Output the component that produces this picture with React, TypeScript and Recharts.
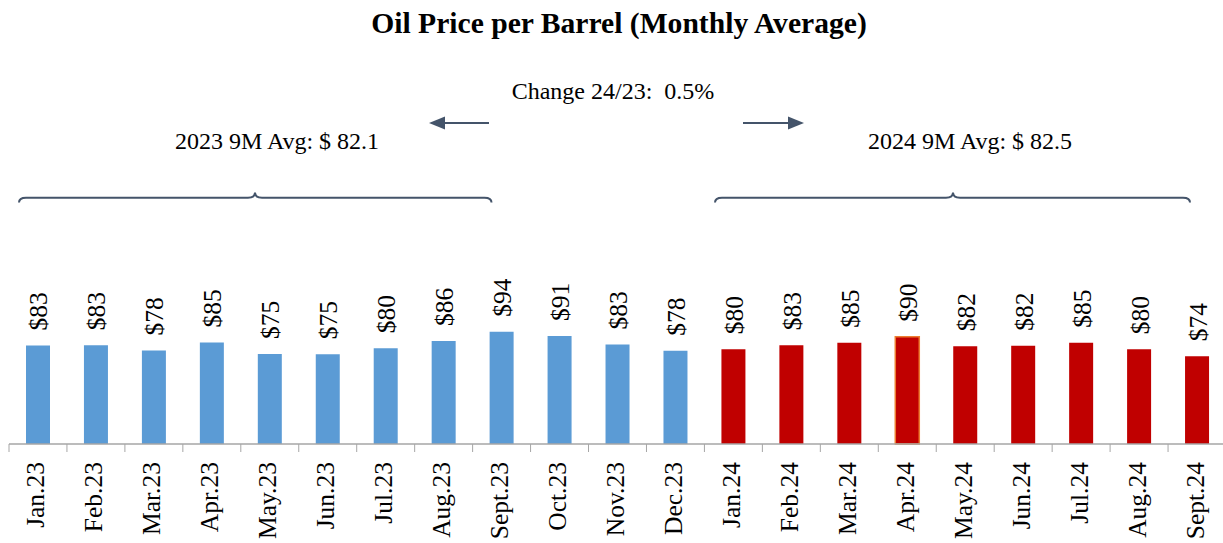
import React from "react";
import { BarChart, Bar, XAxis, YAxis, Cell, LabelList } from "recharts";

// monthly averages
const months = [
    "Jan.23", "Feb.23", "Mar.23", "Apr.23", "May.23", "Jun.23", "Jul.23",
    "Aug.23", "Sept.23", "Oct.23", "Nov.23", "Dec.23",
    "Jan.24", "Feb.24", "Mar.24", "Apr.24", "May.24", "Jun.24", "Jul.24",
    "Aug.24", "Sept.24",
];
const prices = [
    82.6, 82.7, 78.4, 85.1, 75.4, 75.3, 80.3, 86.4, 94.0, 90.6, 83.4, 78.1,
    79.5, 82.8, 84.8, 89.8, 82.0, 82.4, 84.8, 79.5, 73.6,
];
const highlighted = "Apr.24";

const title = "Oil Price per Barrel (Monthly Average)";
const changeText = "Change 24/23:  0.5%";
const avg23Text = "2023 9M Avg: $ 82.1";
const avg24Text = "2024 9M Avg: $ 82.5";

const data = months.map((m, i) => ({ month: m, price: prices[i] }));

const W = 1240;
const H = 543;
const M_LEFT = 9;
const M_RIGHT = 14;
const M_TOP = 265;
const X_AXIS_H = 99;
const AXIS_Y = H - X_AXIS_H;
const STEP = (W - M_LEFT - M_RIGHT) / months.length;

const FONT = "Liberation Serif, Times New Roman, serif";
const BLUE = "#5B9BD5";
const RED = "#C00000";
const SLATE = "#44546A";
const GRID = "#A6A6A6";

const txt = (size: number, bold = false): React.CSSProperties => ({
    fontFamily: FONT,
    fontSize: size,
    fontWeight: bold ? "bold" : "normal",
    whiteSpace: "pre",
});

function MonthTick(props: any) {
    const { x, payload } = props;
    const left = x - STEP / 2;
    const tx = x + 6.5;
    const ty = AXIS_Y + 18;
    return (
        <g>
            <line x1={left} y1={AXIS_Y} x2={left} y2={AXIS_Y + 8} stroke={GRID} strokeWidth={1} />
            <text
                x={tx}
                y={ty}
                transform={`rotate(-90, ${tx}, ${ty})`}
                textAnchor="end"
                style={txt(25.5)}
                fill="#000"
            >
                {payload.value}
            </text>
        </g>
    );
}

function PriceLabel(props: any) {
    const { x, y, width, value } = props;
    const cx = x + width / 2 + 9.5;
    const cy = y - 15;
    return (
        <text
            x={cx}
            y={cy}
            transform={`rotate(-90, ${cx}, ${cy})`}
            textAnchor="start"
            style={txt(25.5)}
            fill="#000"
        >
            {`$${Math.round(value)}`}
        </text>
    );
}

function brace(x0: number, x1: number, xm: number) {
    const yEnd = 202.5;
    const yLine = 197.7;
    const yPeak = 192.5;
    const r = 7;
    return `M ${x0} ${yEnd} Q ${x0} ${yLine} ${x0 + r} ${yLine} L ${xm - r} ${yLine} Q ${xm} ${yLine} ${xm} ${yPeak} Q ${xm} ${yLine} ${xm + r} ${yLine} L ${x1 - r} ${yLine} Q ${x1} ${yLine} ${x1} ${yEnd}`;
}

function Annotations() {
    return (
        <svg
            width={1223}
            height={543}
            style={{ position: "absolute", left: 0, top: 0, pointerEvents: "none" }}
        >
            <text x={619} y={33} textAnchor="middle" style={txt(29.6, true)} fill="#000">
                {title}
            </text>
            <text x={613} y={99} textAnchor="middle" style={txt(24)} fill="#000">
                {changeText}
            </text>
            <text x={277} y={149} textAnchor="middle" style={txt(24)} fill="#000">
                {avg23Text}
            </text>
            <text x={970} y={149} textAnchor="middle" style={txt(24)} fill="#000">
                {avg24Text}
            </text>
            {/* arrows */}
            <line x1={443} y1={123} x2={489} y2={123} stroke={SLATE} strokeWidth={2} />
            <polygon points="429,123 445,116.5 445,129.5" fill={SLATE} />
            <line x1={743} y1={123} x2={790} y2={123} stroke={SLATE} strokeWidth={2} />
            <polygon points="804,123 788,116.5 788,129.5" fill={SLATE} />
            {/* braces */}
            <path d={brace(19, 491.5, 255)} fill="none" stroke={SLATE} strokeWidth={2} />
            <path d={brace(715, 1190, 953)} fill="none" stroke={SLATE} strokeWidth={2} />
        </svg>
    );
}

export default function App() {
    return (
        <div
            style={{
                position: "absolute",
                left: 0,
                top: 0,
                width: 1223,
                height: 543,
                overflow: "hidden",
                background: "#fff",
                fontFamily: FONT,
            }}
        >
            <BarChart
                width={W}
                height={H}
                data={data}
                margin={{ top: M_TOP, right: M_RIGHT, bottom: 0, left: M_LEFT }}
                style={{ fontFamily: FONT }}
            >
                <XAxis
                    dataKey="month"
                    interval={0}
                    height={X_AXIS_H}
                    tickLine={false}
                    axisLine={{ stroke: GRID, strokeWidth: 1.5 }}
                    tick={<MonthTick />}
                />
                <YAxis hide domain={[0, 150]} />
                <Bar dataKey="price" barSize={24} isAnimationActive={false}>
                    {data.map((d) => (
                        <Cell
                            key={d.month}
                            fill={d.month.endsWith("23") ? BLUE : RED}
                            stroke={d.month === highlighted ? "#ED7D31" : "none"}
                            strokeWidth={d.month === highlighted ? 1.5 : 0}
                        />
                    ))}
                    <LabelList dataKey="price" content={<PriceLabel />} />
                </Bar>
            </BarChart>
            <Annotations />
        </div>
    );
}
